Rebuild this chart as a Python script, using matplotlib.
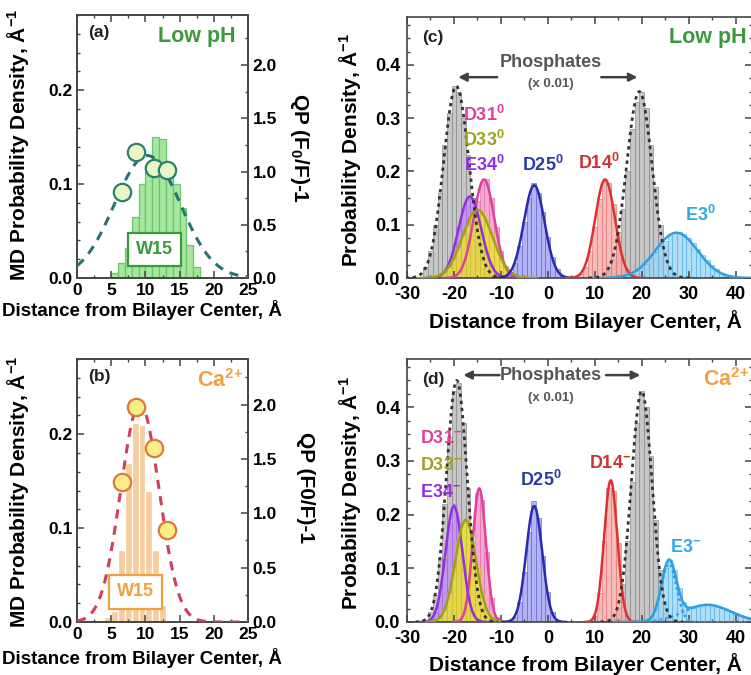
import numpy as np
import matplotlib
matplotlib.use("Agg")
import matplotlib.pyplot as plt
from matplotlib.ticker import MultipleLocator, FormatStrFormatter

plt.rcParams['font.family'] = ['Liberation Sans', 'DejaVu Sans']
plt.rcParams['font.weight'] = 'bold'
plt.rcParams['axes.unicode_minus'] = False
plt.rcParams['mathtext.fontset'] = 'custom'
plt.rcParams['mathtext.rm'] = 'Liberation Sans:bold'
plt.rcParams['mathtext.bf'] = 'Liberation Sans:bold'
plt.rcParams['mathtext.it'] = 'Liberation Sans:bold'

# ---------------- W15: MD histogram and quenching profile ----------------
w15_low_centers = [5.5, 6.5, 7.5, 8.5, 9.5, 10.5, 11.5, 12.5, 13.5, 14.5, 15.5, 16.5, 17.5]
w15_low_density = [0.005, 0.016, 0.032, 0.065, 0.10, 0.12, 0.15, 0.148, 0.12, 0.10, 0.075, 0.035, 0.012]
w15_ca_centers = [4.5, 5.5, 6.5, 7.5, 8.5, 9.5, 10.5, 11.5, 12.5]
w15_ca_density = [0.005, 0.012, 0.077, 0.169, 0.212, 0.21, 0.139, 0.077, 0.018]

qp_depth = [6.6, 8.6, 11.3, 13.2]
qp_low = [0.81, 1.18, 1.03, 1.01]
qp_ca = [1.29, 1.98, 1.60, 0.85]
# Gaussian fit of QP: (amplitude, centre, sigma)
qp_fit_low = (1.15, 10.3, 4.8)
qp_fit_ca = (2.01, 9.2, 2.8)

# ---------------- Residue distributions (1 A bins) ----------------
# each: first bin centre, bar heights, Gaussian fit components (amplitude, centre, sigma)
c_P1 = (-26, [0.02, 0.05, 0.10, 0.16, 0.25, 0.31, 0.36, 0.35, 0.30, 0.23, 0.15, 0.08, 0.04, 0.02],
        [(0.36, -19.5, 2.7)])
c_P2 = (13, [0.015, 0.035, 0.07, 0.13, 0.20, 0.28, 0.33, 0.35, 0.32, 0.25, 0.17, 0.10, 0.055, 0.025, 0.01],
        [(0.35, 19.5, 2.7)])
c_D31 = (-19, [0.008, 0.022, 0.05, 0.10, 0.145, 0.18, 0.185, 0.15, 0.095, 0.05, 0.022, 0.008],
         [(0.185, -13.6, 2.2)])
c_E34 = (-23, [0.004, 0.012, 0.03, 0.055, 0.095, 0.13, 0.152, 0.15, 0.12, 0.085, 0.05, 0.024, 0.01, 0.003],
         [(0.153, -16.6, 2.4)])
c_D33 = (-24, [0.002, 0.005, 0.011, 0.02, 0.036, 0.057, 0.08, 0.10, 0.12, 0.13, 0.125, 0.105, 0.085,
               0.06, 0.04, 0.023, 0.012, 0.006, 0.003],
         [(0.128, -15.0, 3.2)])
c_D25 = (-9, [0.003, 0.011, 0.028, 0.06, 0.105, 0.15, 0.178, 0.16, 0.124, 0.077, 0.04, 0.016, 0.005],
         [(0.174, -2.9, 2.2)])
c_D14 = (6, [0.002, 0.007, 0.021, 0.05, 0.096, 0.148, 0.182, 0.178, 0.139, 0.086, 0.043, 0.017, 0.005, 0.001],
         [(0.185, 12.2, 2.1)])
c_E3 = (16, [0.003, 0.005, 0.008, 0.013, 0.019, 0.027, 0.037, 0.048, 0.06, 0.07, 0.078, 0.085, 0.086,
             0.082, 0.075, 0.066, 0.055, 0.044, 0.033, 0.024, 0.016, 0.01, 0.006, 0.004, 0.002],
        [(0.085, 27.4, 4.5)])

d_P1 = (-25, [0.018, 0.05, 0.12, 0.22, 0.345, 0.43, 0.445, 0.37, 0.25, 0.135, 0.06, 0.022, 0.006],
        [(0.45, -19.4, 2.2)])
d_P2 = (14, [0.008, 0.026, 0.07, 0.15, 0.26, 0.37, 0.43, 0.40, 0.31, 0.19, 0.097, 0.04, 0.013, 0.004],
        [(0.43, 20.0, 2.2)])
d_E34 = (-26, [0.001, 0.005, 0.018, 0.054, 0.117, 0.185, 0.22, 0.185, 0.115, 0.054, 0.018, 0.005, 0.001],
         [(0.216, -20.0, 1.8)])
d_D33 = (-24, [0.002, 0.008, 0.023, 0.054, 0.10, 0.15, 0.185, 0.188, 0.15, 0.10, 0.054, 0.023, 0.008, 0.002],
         [(0.19, -17.5, 2.2)])
d_D31 = (-19, [0.002, 0.013, 0.057, 0.15, 0.24, 0.228, 0.13, 0.045, 0.009, 0.001],
         [(0.249, -14.6, 1.4)])
d_D25 = (-9, [0.0, 0.002, 0.01, 0.037, 0.094, 0.168, 0.225, 0.193, 0.123, 0.056, 0.018, 0.004, 0.001],
         [(0.216, -2.9, 1.7)])
d_D14 = (9, [0.002, 0.012, 0.054, 0.15, 0.25, 0.245, 0.148, 0.054, 0.012, 0.002],
         [(0.264, 13.4, 1.4)])
d_E3 = (19, [0.0, 0.001, 0.002, 0.008, 0.026, 0.062, 0.10, 0.116, 0.097, 0.064, 0.037, 0.027, 0.027,
             0.029, 0.031, 0.032, 0.031, 0.03, 0.027, 0.023, 0.019, 0.016, 0.012, 0.009, 0.006, 0.004],
        [(0.108, 25.8, 1.6), (0.032, 34.0, 5.0)])

# fill, bar edge, fit line
style = {
    'P':   ('#b8b8b8', '#8a8a8a', '#333333'),
    'D31': ('#f592c6', '#e070a8', '#e0409a'),
    'E34': ('#c28cf0', '#a868e6', '#9030e0'),
    'D33': ('#ece42a', '#c8c028', '#a0a020'),
    'D25': ('#9ea0f2', '#6a6ad8', '#2a2ab0'),
    'D14': ('#f5aaa8', '#e07878', '#e03030'),
    'E3':  ('#9cd6f6', '#58b4ea', '#2f9fe0'),
}

fig = plt.figure(figsize=(7.51, 6.75), dpi=100)
W, H = 751.0, 675.0


def axes_px(left, top, right, bottom):
    return fig.add_axes([left / W, 1 - bottom / H, (right - left) / W, (bottom - top) / H])


def style_spines(ax):
    for s in ax.spines.values():
        s.set_linewidth(1.2)
        s.set_color('#444444')


def gauss(x, comps):
    return sum(a * np.exp(-(x - m) ** 2 / (2 * s ** 2)) for a, m, s in comps)


# ---------------- panels (a) and (b) ----------------
def w15_panel(top, bottom, centers, density, bar_fill, bar_edge, qp, fit, rtop,
              line_col, mk_face, mk_edge, box_col, box_xy, tag, cond, cond_col, cond_xy):
    ax = axes_px(77, top, 248, bottom)
    ax.bar(centers, density, width=1.0, color=bar_fill, edgecolor=bar_edge, linewidth=0.9, zorder=1)
    ax.set_xlim(0, 25)
    ax.set_ylim(0, 0.28)
    ax.xaxis.set_major_locator(MultipleLocator(5))
    ax.xaxis.set_minor_locator(MultipleLocator(2.5))
    ax.yaxis.set_major_locator(MultipleLocator(0.1))
    ax.yaxis.set_minor_locator(MultipleLocator(0.02))
    ax.yaxis.set_major_formatter(FormatStrFormatter('%.1f'))
    ax.tick_params(which='both', direction='in', top=True, right=False, labelsize=12.5, color='#444444')
    ax.tick_params(which='major', length=5, width=1.1)
    ax.tick_params(which='minor', length=2.5, width=1)
    style_spines(ax)

    ax2 = ax.twinx()
    ax2.set_ylim(0, rtop)
    ax2.yaxis.set_major_locator(MultipleLocator(0.5))
    ax2.yaxis.set_minor_locator(MultipleLocator(0.25))
    ax2.yaxis.set_major_formatter(FormatStrFormatter('%.1f'))
    ax2.tick_params(which='both', direction='in', labelsize=12.5, color='#444444')
    ax2.tick_params(which='major', length=5, width=1.1)
    ax2.tick_params(which='minor', length=2.5, width=1)
    style_spines(ax2)
    xs = np.linspace(0, 25, 300)
    ax2.plot(xs, gauss(xs, [fit]), ls=(0, (3.0, 2.4)), color=line_col, lw=2.2, zorder=3)
    ax2.plot(qp_depth, qp, 'o', ms=12.5, mfc=mk_face, mec=mk_edge, mew=1.6, zorder=4)

    ax.text(box_xy[0], box_xy[1], 'W15', ha='center', va='center', fontsize=13, color=box_col,
            zorder=5, bbox=dict(boxstyle='square,pad=0.45', fc='white', ec=box_col, lw=1.6))
    ax.text(3.2, cond_xy[1] + 0.004, tag, ha='center', va='center', fontsize=12.5, color='#222222')
    ax.text(cond_xy[0], cond_xy[1], cond, ha='center', va='center', fontsize=15.5, color=cond_col)
    return ax


w15_panel(15, 278, w15_low_centers, w15_low_density, '#a6e69e', '#6cc66c', qp_low, qp_fit_low, 2.47,
          '#2a7272', '#eaf6c6', '#2a8070', '#3a9a3a', (11.3, 0.030), '(a)', 'Low pH', '#3a9a3a',
          (17.5, 0.257))
w15_panel(359, 622, w15_ca_centers, w15_ca_density, '#f6cd9e', 'white', qp_ca, qp_fit_ca, 2.42,
          '#d0405a', '#f8ee88', '#e07838', '#f0a040', (8.55, 0.032), '(b)', 'Ca$^{2{+}}$', '#f0a040',
          (20.9, 0.257))


# ---------------- panels (c) and (d) ----------------
def dist_panel(top, bottom, series, labels, tag, cond, cond_col, phos_y, phos_sub_y, arrows):
    ax = axes_px(407, top, 752, bottom)
    for z, (key, (start, hist, comps)) in enumerate(series):
        fill, edge, line = style[key]
        centers = start + np.arange(len(hist))
        ax.bar(centers, hist, width=1.0, color=fill, edgecolor=edge, linewidth=0.6, alpha=0.8,
               zorder=1 + z * 0.01)
    for key, (start, hist, comps) in series:
        fill, edge, line = style[key]
        lo = min(m - 4 * s for a, m, s in comps)
        hi = max(m + 4 * s for a, m, s in comps)
        xs = np.linspace(lo, hi, 400)
        if key == 'P':
            ax.plot(xs, gauss(xs, comps), color=line, lw=2.0, ls=(0, (1.2, 1.4)), zorder=4)
        else:
            ax.plot(xs, gauss(xs, comps), color=line, lw=1.8, zorder=3)
            if len(comps) > 1:
                for c in comps:
                    ax.plot(xs, gauss(xs, [c]), color=line, lw=1.6, ls=(0, (1.2, 1.4)), zorder=3)
    ax.set_xlim(-30, 43.5)
    ax.set_ylim(0, 0.49)
    ax.xaxis.set_major_locator(MultipleLocator(10))
    ax.xaxis.set_minor_locator(MultipleLocator(5))
    ax.yaxis.set_major_locator(MultipleLocator(0.1))
    ax.yaxis.set_minor_locator(MultipleLocator(0.025))
    ax.yaxis.set_major_formatter(FormatStrFormatter('%.1f'))
    ax.tick_params(which='both', direction='in', top=True, right=True, labelsize=13, color='#444444')
    ax.tick_params(which='major', length=5, width=1.1)
    ax.tick_params(which='minor', length=2.5, width=1)
    ax.tick_params(axis='x', pad=6)
    ax.tick_params(axis='y', pad=5)
    style_spines(ax)

    for text, x, y, col in labels:
        ax.text(x, y, text, ha='center', va='center', fontsize=13, color=col, zorder=6)
    ax.text(-24.5, 0.452, tag, ha='center', va='center', fontsize=12.5, color='#222222')
    ax.text(cond[1], 0.452, cond[0], ha='center', va='center', fontsize=15.5, color=cond_col)
    ax.text(0.6, phos_y, 'Phosphates', ha='center', va='center', fontsize=13, color='#555555')
    ax.text(0.6, phos_sub_y, '(x 0.01)', ha='center', va='center', fontsize=9.5, color='#555555')
    for x0, x1, y in arrows:
        ax.annotate('', xy=(x1, y), xytext=(x0, y),
                    arrowprops=dict(arrowstyle='-|>', color='#404040', lw=1.8, mutation_scale=12,
                                    shrinkA=0, shrinkB=0))
    return ax


series_c = [('P', c_P1), ('P', c_P2), ('D31', c_D31), ('E34', c_E34), ('D33', c_D33),
            ('D25', c_D25), ('D14', c_D14), ('E3', c_E3)]
labels_c = [('D31$^{0}$', -13.6, 0.306, '#e0409a'), ('D33$^{0}$', -13.6, 0.259, '#a0a020'),
            ('E34$^{0}$', -13.6, 0.212, '#9030e0'), ('D25$^{0}$', -1.0, 0.212, '#2a3aa8'),
            ('D14$^{0}$', 10.8, 0.216, '#d03030'), ('E3$^{0}$', 32.6, 0.118, '#30a8e0')]
dist_panel(17, 278, series_c, labels_c, '(c)', ('Low pH', 34.0), '#3a9a3a', 0.404, 0.364,
           [(-10.8, -19.1, 0.377), (11.4, 19.1, 0.377)])

series_d = [('P', d_P1), ('P', d_P2), ('D31', d_D31), ('E34', d_E34), ('D33', d_D33),
            ('D25', d_D25), ('D14', d_D14), ('E3', d_E3)]
labels_d = [('D31$^{-}$', -22.8, 0.342, '#e0409a'), ('D33$^{-}$', -22.8, 0.292, '#a0a020'),
            ('E34$^{-}$', -22.8, 0.242, '#9030e0'), ('D25$^{0}$', -1.5, 0.264, '#2a3aa8'),
            ('D14$^{-}$', 13.2, 0.296, '#d03030'), ('E3$^{-}$', 29.3, 0.138, '#30a8e0')]
dist_panel(359, 622, series_d, labels_d, '(d)', ('Ca$^{2{+}}$', 38.0), '#f0a040', 0.46, 0.417,
           [(-10.3, -18.0, 0.46), (12.4, 19.7, 0.46)])

# ---------------- axis titles ----------------
def ftext(x, y, s, **kw):
    fig.text(x / W, 1 - y / H, s, ha='center', va='center', **kw)


ftext(18, 145, 'MD Probability Density, Å$^{-1}$', rotation=90, fontsize=15)
ftext(18, 492, 'MD Probability Density, Å$^{-1}$', rotation=90, fontsize=15)
ftext(300, 148, 'QP (F$_{0}$/F)-1', rotation=270, fontsize=15)
ftext(306, 488, 'QP (F0/F)-1', rotation=270, fontsize=15)
ftext(350, 150, 'Probability Density, Å$^{-1}$', rotation=90, fontsize=15)
ftext(350, 493, 'Probability Density, Å$^{-1}$', rotation=90, fontsize=15)
ftext(142, 310, 'Distance from Bilayer Center, Å', fontsize=13.5)
ftext(142, 658, 'Distance from Bilayer Center, Å', fontsize=13.5)
ftext(585, 321, 'Distance from Bilayer Center, Å', fontsize=15)
ftext(585, 664, 'Distance from Bilayer Center, Å', fontsize=15)

fig.savefig('out.png', dpi=100)
